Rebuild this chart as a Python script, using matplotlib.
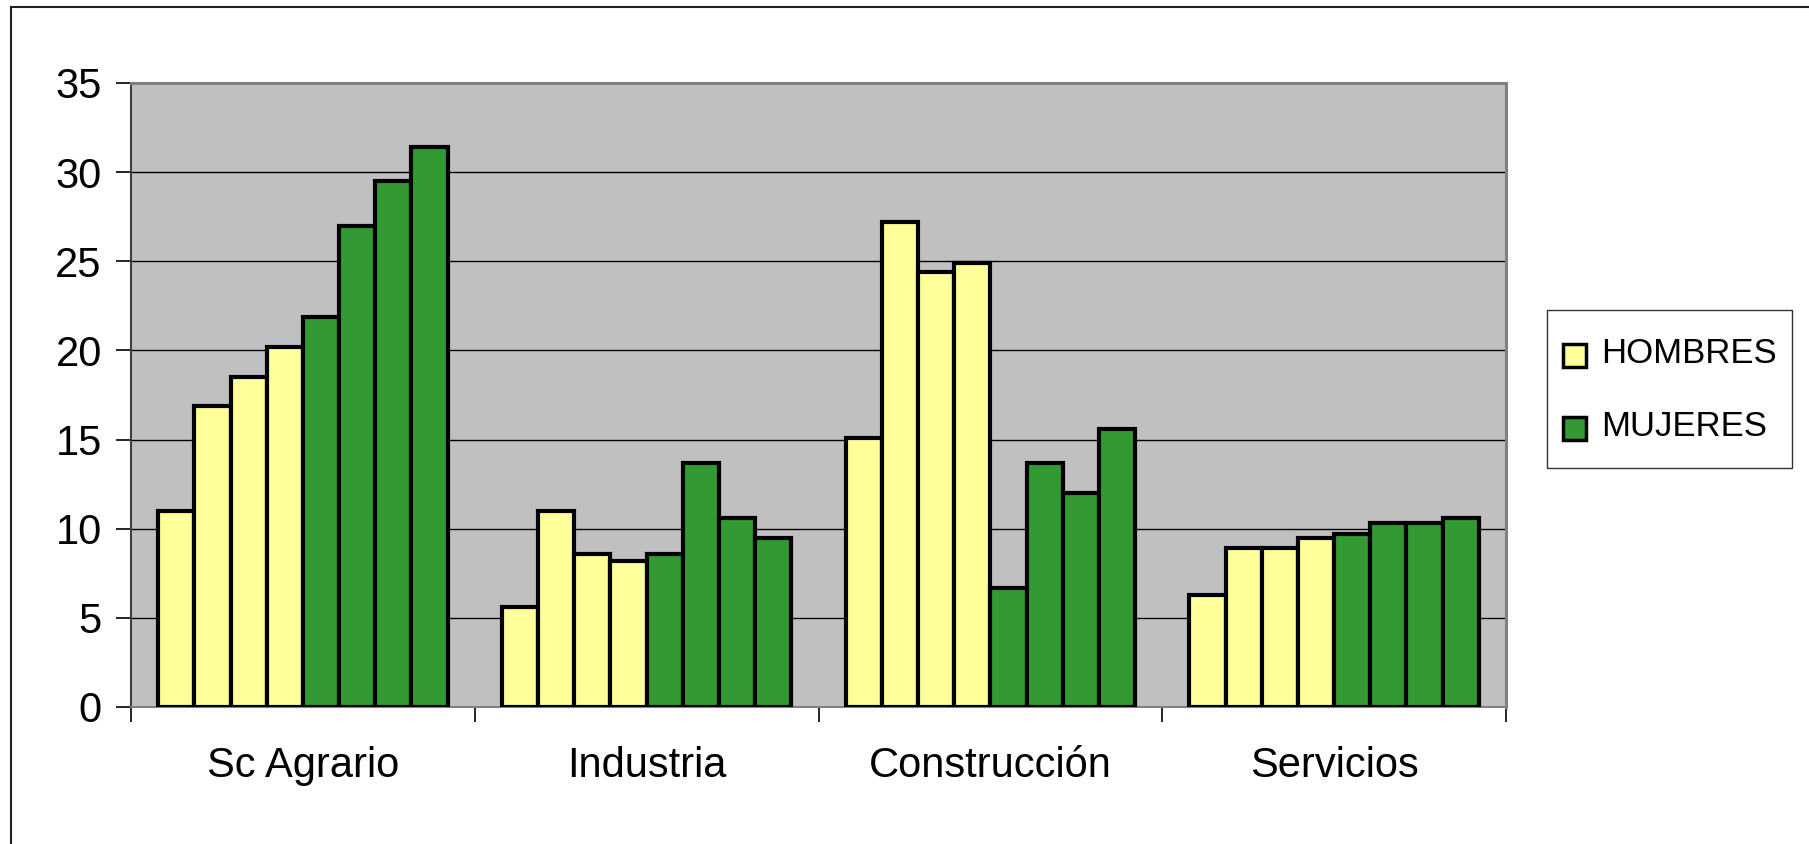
import matplotlib
matplotlib.use('Agg')
import matplotlib.pyplot as plt
import numpy as np
from matplotlib.lines import Line2D
from matplotlib.patches import Patch, Rectangle
from matplotlib.legend_handler import HandlerPatch

plt.rcParams['font.family'] = ['Liberation Sans', 'DejaVu Sans']

# data
sectores = ['Sc Agrario', 'Industria', 'Construcción', 'Servicios']
hombres = [[11.0, 16.9, 18.5, 20.2],
           [5.6, 11.0, 8.6, 8.2],
           [15.1, 27.2, 24.4, 24.9],
           [6.3, 8.9, 8.9, 9.5]]
mujeres = [[21.9, 27.0, 29.5, 31.4],
           [8.6, 13.7, 10.6, 9.5],
           [6.7, 13.7, 12.0, 15.6],
           [9.7, 10.3, 10.3, 10.6]]
series = ['HOMBRES', 'MUJERES']
colores = ['#FFFF99', '#339933']


class KeyHandler(HandlerPatch):
    # small square key, dropped a bit so it sits level with the text
    def create_artists(self, legend, orig_handle, xdescent, ydescent,
                       width, height, fontsize, trans):
        size = 0.66 * fontsize
        p = Rectangle((-xdescent + (width - size) / 2,
                       -ydescent + (height - size) / 2 - 0.1 * fontsize), size, size)
        self.update_prop(p, orig_handle, legend)
        p.set_transform(trans)
        return [p]


W, H = 1809, 844
fig = plt.figure(figsize=(W / 100, H / 100), dpi=100)
fig.patch.set_facecolor('white')

# plot area in pixels
x0, x1, y_top, y_bot = 131, 1506, 83, 707
ax = fig.add_axes([x0 / W, 1 - y_bot / H, (x1 - x0) / W, (y_bot - y_top) / H])
ax.set_facecolor('#C0C0C0')

w = 1 / 9.5  # gap width 150%
for i, sec in enumerate(sectores):
    vals = hombres[i] + mujeres[i]
    cols = [colores[0]] * len(hombres[i]) + [colores[1]] * len(mujeres[i])
    pos = i + (np.arange(len(vals)) - (len(vals) - 1) / 2) * w
    ax.bar(pos, vals, width=w, color=cols, edgecolor='black', linewidth=3, zorder=3)

ax.set_xlim(-0.5, len(sectores) - 0.5)
ax.set_ylim(0, 35)
ax.set_yticks(np.arange(0, 36, 5))
ax.yaxis.grid(True, color='black', linewidth=1.0, zorder=1)
ax.set_axisbelow(True)

# category boundaries as ticks, labels in the middle
ax.set_xticks(np.arange(-0.5, len(sectores)), labels=[''] * (len(sectores) + 1))
ax.set_xticks(np.arange(len(sectores)), labels=sectores, minor=True)
ax.tick_params(axis='x', which='major', length=11, width=1.2, direction='out', color='black')
ax.tick_params(axis='x', which='minor', length=0, pad=28, labelsize=30)
ax.tick_params(axis='y', length=11, width=1.2, direction='out', pad=10, labelsize=30)

for s in ['top', 'right']:
    ax.spines[s].set_color('#808080')
    ax.spines[s].set_linewidth(2.2)
ax.spines['left'].set_color('#404040')
ax.spines['left'].set_linewidth(1.5)
ax.spines['bottom'].set_color('#808080')
ax.spines['bottom'].set_linewidth(1.5)

handles = [Patch(facecolor=c, edgecolor='black', linewidth=2.5) for c in colores]
leg = fig.legend(handles, series, loc='upper left',
                 bbox_to_anchor=(1547 / W, 1 - 310 / H), bbox_transform=fig.transFigure,
                 fontsize=25, frameon=True, fancybox=False, edgecolor='black',
                 handlelength=0.7, handleheight=2.0, handletextpad=0.4,
                 labelspacing=0.55, borderpad=0.45, borderaxespad=0,
                 handler_map={Patch: KeyHandler()})
leg.get_frame().set_linewidth(1.0)

# outer chart frame (left and top edges visible)
fig.add_artist(Line2D([11 / W, 11 / W], [0, 1 - 7 / H], transform=fig.transFigure,
                      color='#202020', linewidth=1.5))
fig.add_artist(Line2D([11 / W, 1], [1 - 7 / H, 1 - 7 / H], transform=fig.transFigure,
                      color='#202020', linewidth=1.5))

fig.savefig('out.png', dpi=100)
